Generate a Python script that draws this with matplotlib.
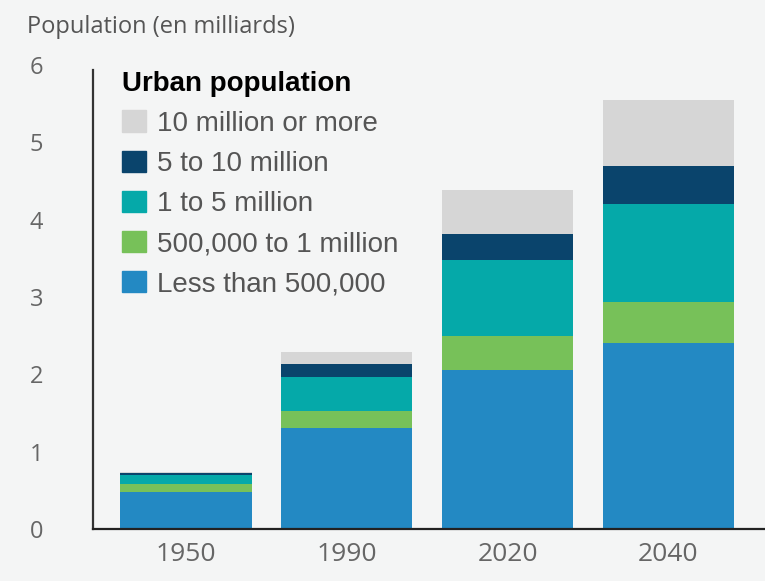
import matplotlib.pyplot as plt
from matplotlib.patches import Patch
import numpy as np

years = ["1950", "1990", "2020", "2040"]
series_names = ["Less than 500,000", "500,000 to 1 million", "1 to 5 million",
                "5 to 10 million", "10 million or more"]
less_500k = [0.48, 1.30, 2.06, 2.40]
k500_to_1m = [0.10, 0.22, 0.43, 0.53]
m1_to_5 = [0.12, 0.45, 0.99, 1.27]
m5_to_10 = [0.03, 0.16, 0.34, 0.50]
m10_plus = [0.005, 0.16, 0.56, 0.85]
colors = ["#2389c3", "#77c159", "#05a9a9", "#0a446c", "#d6d6d6"]

bg = "#f4f5f5"
fig = plt.figure(figsize=(7.65, 5.81), dpi=100, facecolor=bg)
ax = fig.add_axes([0.1216, 0.0895, 0.8784, 0.7986], facecolor=bg)

x = np.arange(len(years))
bottom = np.zeros(len(years))
for vals, c in zip([less_500k, k500_to_1m, m1_to_5, m5_to_10, m10_plus], colors):
    ax.bar(x, vals, width=0.815, bottom=bottom, color=c, linewidth=0)
    bottom += np.array(vals)

ax.set_xlim(-0.578, 3.60)
ax.set_ylim(0, 6.0)
ax.set_yticks(range(7))
ax.set_xticks(x)
ax.set_xticklabels(years, fontsize=19, color="#666666", family="Open Sans")
for lab in ax.get_yticklabels():
    lab.set_fontsize(17)
    lab.set_color("#666666")
    lab.set_family("Open Sans")
ax.tick_params(axis="y", length=0, pad=36)
ax.tick_params(axis="x", length=0, pad=9)

for s in ["top", "right"]:
    ax.spines[s].set_visible(False)
ax.spines["left"].set_bounds(0, 5.93)
ax.spines["left"].set_color("#333333")
ax.spines["left"].set_linewidth(1.6)
ax.spines["bottom"].set_color("#222222")
ax.spines["bottom"].set_linewidth(1.6)

fig.text(0.035, 0.953, "Population (en milliards)", fontsize=17, color="#555555",
         family="Open Sans", va="center", ha="left")

handles = [Patch(color=c, label=n) for c, n in zip(colors, series_names)][::-1]
leg = ax.legend(handles=handles, loc="upper left", bbox_to_anchor=(0.035, 1.0),
                frameon=False, title="Urban population", alignment="left",
                prop={"family": "Liberation Sans", "size": 20},
                handlelength=0.87, handleheight=0.8, handletextpad=0.4,
                labelspacing=0.5, borderpad=0.2, borderaxespad=0)
leg.get_title().set_fontsize(20)
leg.get_title().set_fontweight("bold")
leg.get_title().set_family("Liberation Sans")
for t in leg.get_texts():
    t.set_color("#555555")

fig.savefig("out.png", dpi=100, facecolor=bg)
